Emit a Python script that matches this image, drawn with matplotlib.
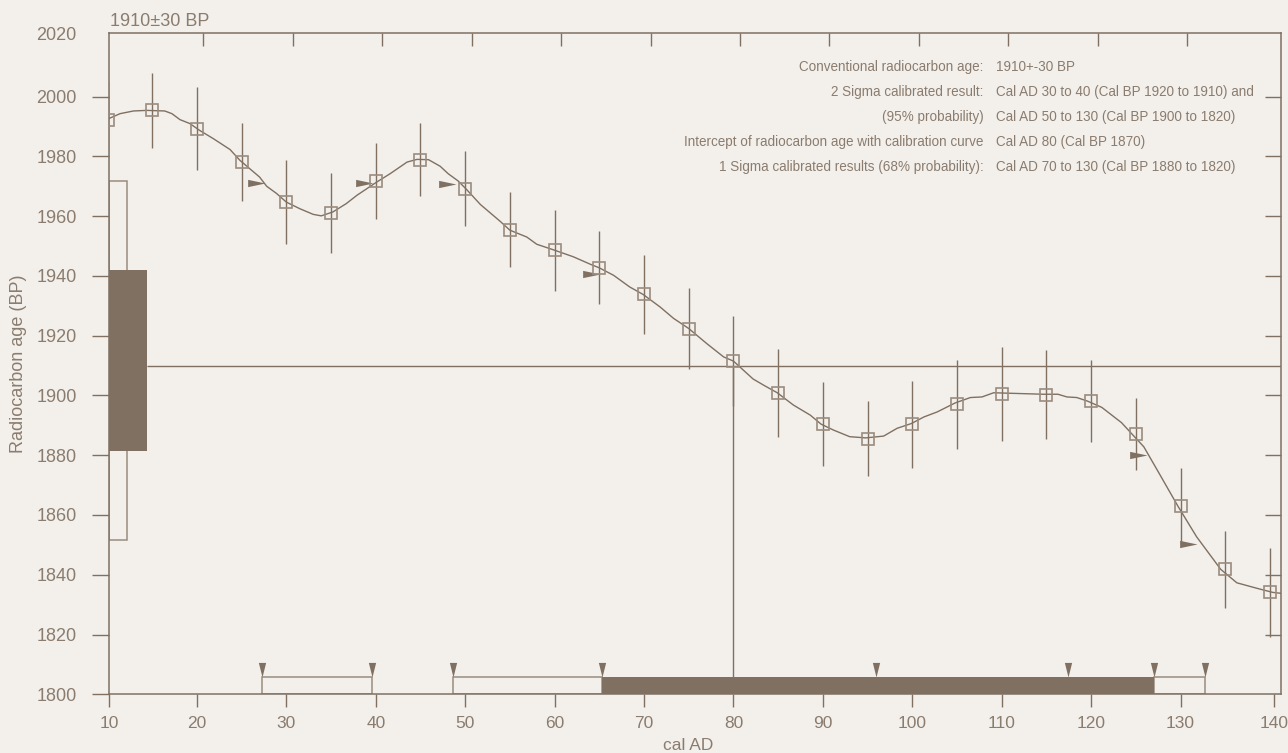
import matplotlib
matplotlib.use("Agg")
import numpy as np
import matplotlib.pyplot as plt
from matplotlib.path import Path

# --- data ---
cal_ad = [10, 15, 20, 25, 30, 35, 40, 45, 50, 55, 60, 65, 70, 75,
          80, 85, 90, 95, 100, 105, 110, 115, 120, 125, 130, 135, 140]
bp = [1992.1, 1995.4, 1989.3, 1978.1, 1964.7, 1961.1, 1971.7, 1978.9, 1969.2,
      1955.5, 1948.6, 1942.7, 1933.8, 1922.4, 1911.5, 1900.9, 1890.4, 1885.5,
      1890.3, 1897.0, 1900.4, 1900.3, 1898.1, 1887.0, 1863.0, 1841.8, 1834.1]
bp_err = [13.0, 12.5, 13.8, 13.0, 14.1, 13.3, 12.7, 12.2, 12.6, 12.5, 13.5,
          12.2, 13.2, 13.7, 15.0, 14.8, 14.0, 12.5, 14.5, 14.9, 15.7, 15.0,
          13.6, 12.1, 12.6, 12.8, 15.0]

# calibration curve (traced)
curve_x = [10.1, 11.4, 12.9, 14.4, 16.4, 17.2, 18.1, 19.2, 20.3, 21.8,
           23.7, 24.8, 25.9, 27.0, 27.8, 28.9, 30.0, 31.5, 33.0, 33.9,
           35.2, 36.7, 37.9, 39.0, 40.1, 41.6, 43.5, 44.6, 45.9, 47.2,
           48.1, 49.2, 50.1, 51.7, 53.9, 55.0, 56.9, 58.0, 60.0, 62.1,
           64.0, 65.0, 66.6, 68.4, 69.9, 71.8, 73.3, 75.0, 77.0, 78.9,
           80.0, 82.2, 83.4, 84.9, 86.7, 88.6, 89.8, 91.2, 93.0, 94.8,
           96.8, 98.3, 99.9, 101.3, 102.8, 104.8, 106.5, 107.8, 109.1, 111.3,
           114.7, 116.3, 117.3, 118.4, 119.6, 121.2, 123.4, 124.6, 125.9, 127.5,
           129.7, 131.8, 134.5, 136.3, 138.5, 140.3, 141.2]
curve_y = [1992.6, 1994.3, 1995.2, 1995.4, 1995.2, 1994.3, 1992.3, 1991.0, 1988.7, 1986.0,
           1982.3, 1978.7, 1975.9, 1973.1, 1970.0, 1967.6, 1964.7, 1962.5, 1960.6, 1960.1,
           1961.4, 1964.2, 1967.0, 1969.2, 1971.4, 1974.2, 1978.1, 1979.0, 1978.9, 1976.7,
           1974.2, 1971.8, 1969.1, 1963.9, 1958.3, 1955.3, 1953.0, 1950.6, 1948.6, 1946.4,
           1943.9, 1942.7, 1940.2, 1936.3, 1933.8, 1929.6, 1925.8, 1922.4, 1917.4, 1912.9,
           1911.5, 1905.5, 1903.4, 1900.9, 1896.8, 1893.4, 1890.4, 1888.4, 1886.2, 1885.8,
           1886.4, 1889.0, 1890.6, 1892.8, 1894.5, 1897.5, 1899.3, 1899.5, 1900.9, 1900.7,
           1900.4, 1900.4, 1899.5, 1899.3, 1898.1, 1896.0, 1890.9, 1887.0, 1882.8, 1874.5,
           1863.0, 1852.7, 1841.8, 1837.3, 1835.5, 1834.1, 1833.8]

# measured age and its sigma boxes on the y axis
measured_bp = 1910
intercept_ad = 80
box2_bp = (1851.7, 1971.7)
box1_bp = (1881.5, 1942.0)
box2_right = 12.2
box1_right = 14.4

# calibrated ranges along the x axis
sigma2_start = [27.3, 48.6, 127.0]
sigma2_end = [39.6, 65.3, 132.7]
sigma1_start = [65.3]
sigma1_end = [127.0]
range_marks = [27.3, 39.6, 48.6, 65.3, 95.9, 117.4, 127.0, 132.7]

# curve crossings of the sigma levels
cross_x = [27.6, 39.7, 49.0, 65.1, 126.2, 131.8]
cross_y = [1971.2, 1971.2, 1970.9, 1940.8, 1880.0, 1850.3]

labels_left = ["Conventional radiocarbon age:",
               "2 Sigma calibrated result:",
               "(95% probability)",
               "Intercept of radiocarbon age with calibration curve",
               "1 Sigma calibrated results (68% probability):"]
labels_right = ["1910+-30 BP",
                "Cal AD 30 to 40 (Cal BP 1920 to 1910) and",
                "Cal AD 50 to 130 (Cal BP 1900 to 1820)",
                "Cal AD 80 (Cal BP 1870)",
                "Cal AD 70 to 130 (Cal BP 1880 to 1820)"]

x_lo, x_hi = 10.16, 141.2
y_lo, y_hi = 1800, 2021.2
bar_h = 5.7

BG = "#f3f0ec"
INK = "#7f7061"
LIGHT = "#9a8c7e"
TXT = "#8a7c6e"

plt.rcParams["font.family"] = ["Liberation Sans", "DejaVu Sans"]

fig = plt.figure(figsize=(12.88, 7.53), dpi=100, facecolor=BG)
ax = fig.add_axes([0.0846, 0.0780, 0.9097, 0.8778], facecolor=BG)

# sigma boxes on the y axis
ax.bar(x_lo, box2_bp[1] - box2_bp[0], width=box2_right - x_lo, bottom=box2_bp[0],
       align="edge", facecolor=BG, edgecolor=LIGHT, linewidth=1.1, zorder=2)
ax.bar(x_lo, box1_bp[1] - box1_bp[0], width=box1_right - x_lo, bottom=box1_bp[0],
       align="edge", facecolor=INK, edgecolor=INK, linewidth=0, zorder=2)

ax.hlines(measured_bp, box1_right, x_hi, color=INK, linewidth=1.0, zorder=2)
ax.vlines(intercept_ad, y_lo, measured_bp, color=INK, linewidth=1.0, zorder=2)

# calibrated range bars
s2 = np.array(sigma2_start)
ax.barh(y_lo, np.array(sigma2_end) - s2, left=s2, height=bar_h, align="edge",
        facecolor=BG, edgecolor=LIGHT, linewidth=1.1, zorder=2)
s1 = np.array(sigma1_start)
ax.barh(y_lo, np.array(sigma1_end) - s1, left=s1, height=bar_h, align="edge",
        facecolor=INK, edgecolor=INK, linewidth=0, zorder=2)

down_tri = Path([(-0.25, 1), (0, 0), (0.25, 1), (-0.25, 1)],
                [Path.MOVETO, Path.LINETO, Path.LINETO, Path.CLOSEPOLY])
ax.plot(range_marks, [y_lo + bar_h] * len(range_marks), ls="none", marker=down_tri,
        ms=21, mfc=INK, mec=INK, mew=0, zorder=4, clip_on=False)

# curve and data
ax.plot(curve_x, curve_y, color=INK, linewidth=1.0, zorder=3)
ax.errorbar(cal_ad, bp, yerr=bp_err, fmt="none", ecolor=INK, elinewidth=1.0, zorder=3)
ax.plot(cal_ad, bp, ls="none", marker="s", ms=9, mfc="none", mec=LIGHT, mew=1.2, zorder=5)

right_tri = Path([(-1, -0.21), (0, 0), (-1, 0.21), (-1, -0.21)],
                 [Path.MOVETO, Path.LINETO, Path.LINETO, Path.CLOSEPOLY])
ax.plot(cross_x, cross_y, ls="none", marker=right_tri, ms=25,
        mfc=INK, mec=INK, mew=0, zorder=4)

# axes
ax.set_xlim(x_lo, x_hi)
ax.set_ylim(y_lo, y_hi)
mid_x = list(range(20, 140, 10))
ax.set_xticks([x_lo] + mid_x + [140.5], ["10"] + [str(v) for v in mid_x] + ["140"])
ys = list(range(1800, 2001, 20))
ax.set_yticks(ys + [y_hi], [str(v) for v in ys] + ["2020"])
ax.yaxis.get_major_ticks()[-1].tick1line.set_visible(False)

ax.tick_params(axis="y", direction="out", length=12.2, width=1.0, pad=11,
               labelsize=13, color=INK, labelcolor=TXT)
ax.tick_params(axis="x", direction="out", length=9.1, width=1.0, pad=6.5,
               labelsize=12.5, color=INK, labelcolor=TXT)
for sp in ax.spines.values():
    sp.set_color(INK)
    sp.set_linewidth(1.1)

top = ax.secondary_xaxis("top", functions=(lambda v: v - 0.73, lambda v: v + 0.73))
top.set_xticks(mid_x)
top.tick_params(direction="in", length=9.1, width=1.0, color=INK, labeltop=False)
top.spines["top"].set_visible(False)
right = ax.secondary_yaxis("right")
right.set_yticks(list(range(1820, 2001, 20)))
right.tick_params(direction="in", length=11.5, width=1.0, color=INK, labelright=False)
right.spines["right"].set_visible(False)

ax.set_ylabel("Radiocarbon age (BP)", fontsize=13, color=TXT)
ax.yaxis.set_label_coords(-0.070, 0.5)
ax.set_xlabel("cal AD", fontsize=12.5, color=TXT)
ax.xaxis.set_label_coords(0.494, -0.0665)

ax.text(0.001, 1.0175, "1910\u00b130 BP", transform=ax.transAxes, va="center",
        ha="left", fontsize=13, color=TXT)

for i, (left_txt, right_txt) in enumerate(zip(labels_left, labels_right)):
    yy = 0.9495 - i * 0.0378
    ax.text(0.7464, yy, left_txt, transform=ax.transAxes, ha="right", va="center",
            fontsize=9.75, color=TXT)
    ax.text(0.7574, yy, right_txt, transform=ax.transAxes, ha="left", va="center",
            fontsize=9.75, color=TXT)

fig.savefig("out.png", dpi=100, facecolor=BG)
